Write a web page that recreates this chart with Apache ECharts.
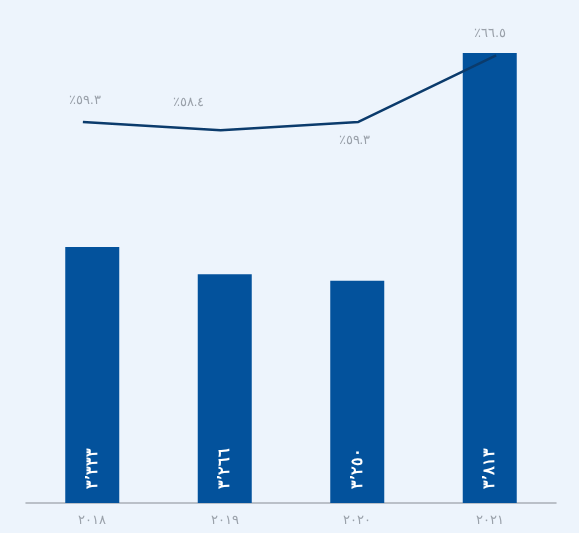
<!DOCTYPE html>
<html><head><meta charset="utf-8">
<script src="https://cdn.jsdelivr.net/npm/echarts@6/dist/echarts.min.js"></script>
<style>html,body{margin:0;padding:0;background:#EDF4FC}#c{width:579px;height:533px}</style>
</head><body><div id="c"></div>
<script>
// Years on the category axis
const years = ['٢٠١٨', '٢٠١٩', '٢٠٢٠', '٢٠٢١'];
// Bar values, printed inside each bar
const revenue = [3333, 3266, 3250, 3813];
// Line values (percent)
const share = [59.3, 58.4, 59.3, 66.5];

const arabicDigits = '٠١٢٣٤٥٦٧٨٩';
const toArabic = s => String(s).replace(/[0-9]/g, d => arabicDigits[+d]);
const fmtCount = v => toArabic(Math.floor(v / 1000) + '٬' + String(v % 1000).padStart(3, '0'));
const fmtPct = v => '٪' + toArabic(v.toFixed(1));

// Per-point label placement for the line
const lineLabelPlacement = [
  {position: 'top', distance: 15, offset: [2, 0]},
  {position: 'top', distance: 15, offset: [-32, -6]},
  {position: 'bottom', distance: 12, offset: [-4, 0]},
  {position: 'top', distance: 15, offset: [-6, 0]}
];

const chart = echarts.init(document.getElementById('c'));
chart.setOption({
  backgroundColor: '#EDF4FC',
  animation: false,
  grid: [
    {left: 26, right: 23, top: 53, bottom: 30},
    {left: 14, right: 14, top: 23, bottom: 325}
  ],
  xAxis: [
    {type: 'category', gridIndex: 0, data: years, axisTick: {show: false},
     axisLine: {lineStyle: {color: '#A9AFB7', width: 1.5}},
     axisLabel: {color: '#9AA1AA', fontSize: 13, margin: 11}},
    {type: 'category', gridIndex: 1, data: years, show: false}
  ],
  yAxis: [
    {type: 'value', gridIndex: 0, min: 2700, max: v => v.max, show: false, splitLine: {show: false}},
    {type: 'value', gridIndex: 1, min: 50, max: 70, show: false, splitLine: {show: false}}
  ],
  series: [
    {type: 'bar', xAxisIndex: 0, yAxisIndex: 0, data: revenue, barWidth: 54,
     itemStyle: {color: '#03529C'},
     label: {show: true, position: 'insideBottom', rotate: 90, align: 'left', verticalAlign: 'middle',
       distance: 14, color: '#fff', fontSize: 16, fontWeight: 'bold',
       formatter: p => fmtCount(p.value)}},
    {type: 'line', xAxisIndex: 1, yAxisIndex: 1, symbol: 'circle', symbolSize: 0.1, showSymbol: true,
     data: share.map((v, i) => ({value: v, label: lineLabelPlacement[i]})),
     itemStyle: {color: '#0B3B6C'},
     lineStyle: {color: '#0B3B6C', width: 2.5},
     label: {show: true, color: '#9AA1AA', fontSize: 13, formatter: p => fmtPct(p.value)}}
  ]
});
</script></body></html>
